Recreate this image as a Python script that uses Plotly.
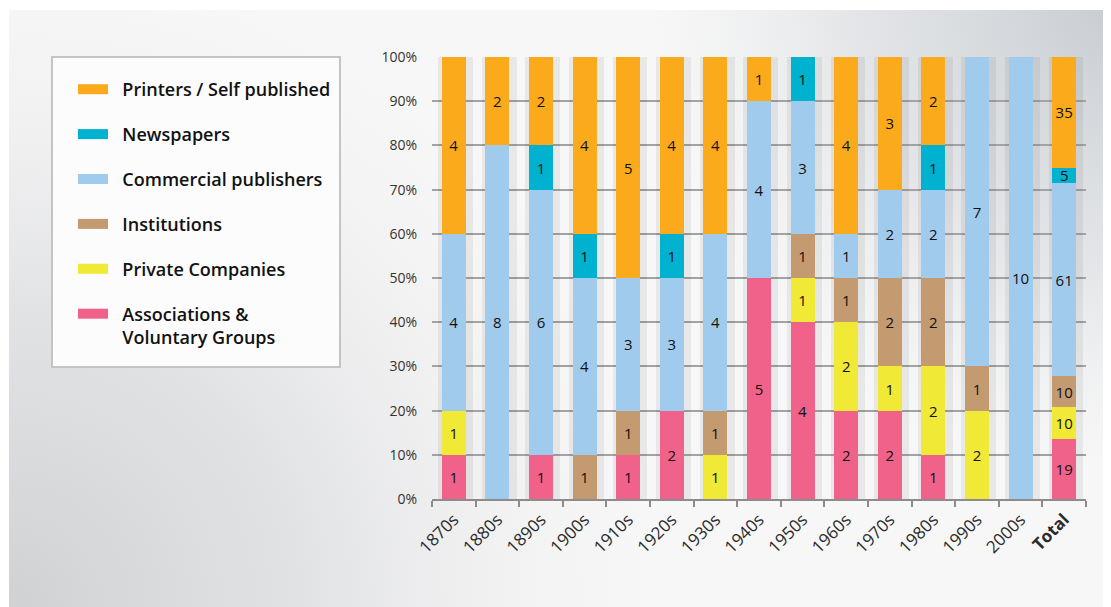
import base64
import plotly.graph_objects as go

# ---------------- data ----------------
categories = ["1870s", "1880s", "1890s", "1900s", "1910s", "1920s", "1930s",
              "1940s", "1950s", "1960s", "1970s", "1980s", "1990s", "2000s", "Total"]
tick_labels = ["1870s", "1880s", "1890s", "1900s", "1910s", "1920s", "1930s",
               "1940s", "1950s", "1960s", "1970s", "1980s", "1990s", "2000s", "<b>Total</b>"]
y_tick_values = [0, 10, 20, 30, 40, 50, 60, 70, 80, 90, 100]
y_tick_labels = ["0%", "10%", "20%", "30%", "40%", "50%", "60%", "70%", "80%", "90%", "100%"]

associations = [1, 0, 1, 0, 1, 2, 0, 5, 4, 2, 2, 1, 0, 0, 19]
private_cos  = [1, 0, 0, 0, 0, 0, 1, 0, 1, 2, 1, 2, 2, 0, 10]
institutions = [0, 0, 0, 1, 1, 0, 1, 0, 1, 1, 2, 2, 1, 0, 10]
commercial   = [4, 8, 6, 4, 3, 3, 4, 4, 3, 1, 2, 2, 7, 10, 61]
newspapers   = [0, 0, 1, 1, 0, 1, 0, 0, 1, 0, 0, 1, 0, 0, 5]
printers     = [4, 2, 2, 4, 5, 4, 4, 1, 0, 4, 3, 2, 0, 0, 35]

series_names = ["Associations &<br>Voluntary Groups", "Private Companies", "Institutions",
                "Commercial publishers", "Newspapers", "Printers / Self published"]
series_values = [associations, private_cos, institutions, commercial, newspapers, printers]
series_colors = ["#f0628a", "#f0e935", "#c49a70", "#a1cbed", "#00b2d0", "#fbaa1c"]

full_column = [1] * len(categories)

# ---------------- geometry helpers ----------------
OFF = 8                      # page body margin
W, H = 1111 - OFF, 607 - OFF
L, T = 432 - OFF, 57 - OFF
PW, PH = 654, 442
R, B = W - L - PW, H - T - PH

def px_x(p):                 # reference-screen x -> paper
    return (p - OFF - L) / PW

def px_y(p):                 # reference-screen y -> paper
    return (T + PH - (p - OFF)) / PH

FONT = "Open Sans"
PAD = "\u00a0\u00a0"

fig = go.Figure()

# soft column shadows (behind the data bars, on the base axes)
fig.add_trace(go.Bar(
    x=categories, y=full_column, width=0.8, offset=-0.36,
    marker=dict(color="rgba(0,0,0,0.06)", line=dict(width=0)),
    hoverinfo="skip", showlegend=False, xaxis="x", yaxis="y",
))

# data bars on overlaying axes
for name, vals, col in zip(series_names, series_values, series_colors):
    fig.add_trace(go.Bar(
        x=categories, y=vals, name=name,
        marker=dict(color=col, line=dict(width=0)),
        width=0.55,
        text=[str(v) if v else "" for v in vals],
        textposition="inside", insidetextanchor="middle", textangle=0,
        constraintext="none",
        textfont=dict(family=FONT, size=15, color="#111111"),
        showlegend=False, xaxis="x2", yaxis="y2",
        hovertemplate="%{x}: %{y}<extra>" + name.replace("<br>", " ") + "</extra>",
    ))

# legend entries (top-down order as in the reference)
for name, col in reversed(list(zip(series_names, series_colors))):
    label = PAD + name.replace("<br>", "<br>" + PAD)
    fig.add_trace(go.Scatter(
        x=[None], y=[None], mode="lines", name=label,
        line=dict(color=col, width=14),
        legendgroup=name, showlegend=True, xaxis="x2", yaxis="y2",
    ))

# background panel with gradients (inline SVG)
svg = f"""<svg xmlns='http://www.w3.org/2000/svg' width='{W}' height='{H}' viewBox='0 0 {W} {H}'>
<defs>
<radialGradient id='tr' cx='{W}' cy='0' r='460' gradientUnits='userSpaceOnUse'>
<stop offset='0' stop-color='#c9cdd1' stop-opacity='1'/>
<stop offset='0.55' stop-color='#d8dbdf' stop-opacity='0.65'/>
<stop offset='1' stop-color='#e6e8ea' stop-opacity='0'/>
</radialGradient>
<radialGradient id='bl' cx='0' cy='{H}' r='650' gradientUnits='userSpaceOnUse'>
<stop offset='0' stop-color='#d0d1d3' stop-opacity='1'/>
<stop offset='0.45' stop-color='#dcdde0' stop-opacity='0.8'/>
<stop offset='1' stop-color='#eeeeef' stop-opacity='0'/>
</radialGradient>
</defs>
<rect x='0' y='0' width='{W}' height='{H}' fill='#ffffff'/>
<rect x='1' y='2' width='{W-1}' height='{H-2}' fill='#f7f7f7'/>
<rect x='1' y='2' width='{W-1}' height='{H-2}' fill='url(#bl)'/>
<rect x='1' y='2' width='{W-1}' height='{H-2}' fill='url(#tr)'/>
</svg>"""
svg_uri = "data:image/svg+xml;base64," + base64.b64encode(svg.encode()).decode()

fig.update_layout(
    width=W, height=H,
    margin=dict(l=L, r=R, t=T, b=B),
    paper_bgcolor="#ffffff",
    plot_bgcolor="#f3f3f3",
    barmode="stack", barnorm="percent",
    font=dict(family=FONT, size=14, color="#333333"),
    images=[dict(source=svg_uri, xref="paper", yref="paper",
                 x=-L / PW, y=(T + PH) / PH, sizex=W / PW, sizey=H / PH,
                 xanchor="left", yanchor="top", sizing="stretch", layer="below")],
    shapes=[dict(type="rect", xref="paper", yref="paper",
                 x0=px_x(52), x1=px_x(340), y0=px_y(367), y1=px_y(57),
                 line=dict(color="#c4c4c4", width=2), fillcolor="#fcfcfc", layer="below")],
    legend=dict(
        x=px_x(73), y=px_y(71), xanchor="left", yanchor="top",
        bgcolor="rgba(0,0,0,0)", borderwidth=0,
        traceorder="grouped", tracegroupgap=18.5, valign="top",
        font=dict(family=FONT, size=18, color="#111111", weight=600),
        itemwidth=30,
    ),
    xaxis=dict(
        type="category", categoryorder="array", categoryarray=categories,
        tickmode="array", tickvals=categories, ticktext=tick_labels, tickangle=-45,
        showgrid=False, showline=True, linecolor="#8c8c8c", linewidth=2,
        ticks="outside", tickson="boundaries", ticklen=6, tickwidth=2, tickcolor="#8c8c8c",
        tickfont=dict(family=FONT, size=17, color="#2a2a2a"), ticklabelstandoff=2,
        range=[-0.5, len(categories) - 0.5], fixedrange=True,
    ),
    xaxis2=dict(
        type="category", categoryorder="array", categoryarray=categories,
        overlaying="x", matches="x", visible=False,
    ),
    yaxis=dict(
        range=[0, 100], tickmode="array", tickvals=y_tick_values, ticktext=y_tick_labels,
        showgrid=True, gridcolor="#a3a3a3", gridwidth=2, zeroline=False,
        showline=False, ticks="", ticklabelstandoff=14,
        tickfont=dict(family=FONT, size=14, color="#333333"), fixedrange=True,
    ),
    yaxis2=dict(range=[0, 100], overlaying="y", visible=False, fixedrange=True),
)

fig.write_html("out.html")
